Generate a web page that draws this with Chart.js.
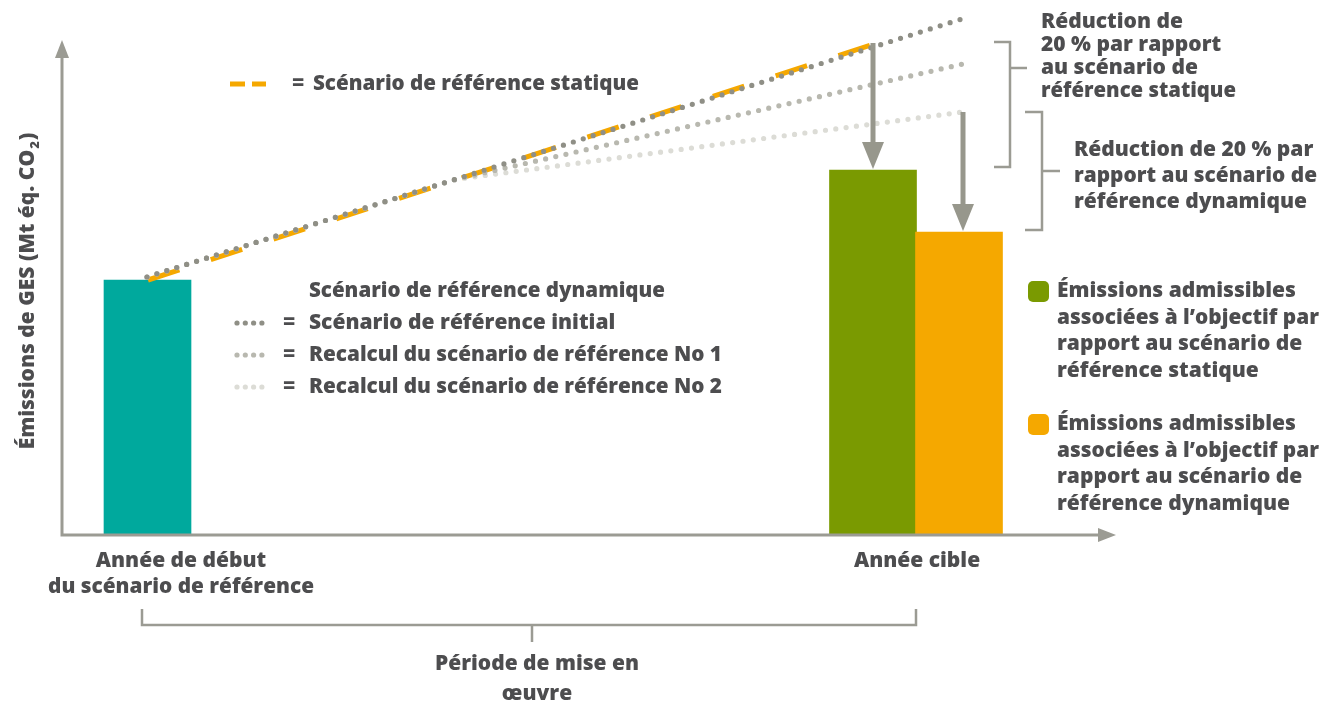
<!DOCTYPE html>
<html lang="fr">
<head>
<meta charset="utf-8">
<title>Émissions de GES – scénarios de référence</title>
<script src="https://cdn.jsdelivr.net/npm/chart.js@4.4.1/dist/chart.umd.min.js"></script>
<style>
  html, body { margin: 0; padding: 0; background: #fff; }
  #wrap { position: relative; width: 1322px; height: 704px; }
</style>
</head>
<body>
<div id="wrap"><canvas id="chart"></canvas></div>
<script>
// Schematic values (arbitrary units)
const barX = [8.55, 81.1, 89.7];
const barValues = [51, 73, 60.6];

const initialX = [8.5, 90.6];
const initialY = [51.6, 103.6];
const recalc1X = [8.5, 39.3, 90.1];
const recalc1Y = [51.6, 71.1, 94.2];
const recalc2X = [8.5, 39.3, 90.1];
const recalc2Y = [51.6, 71.1, 84.6];
const staticX = [8.6, 81.5];
const staticY = [51.0, 98.4];

// reduction arrows: where they start (baseline) and end (target bar)
const arrowX = [81.1, 90.1];
const arrowFrom = [98.4, 84.6];
const arrowTo = [73, 60.6];

const tickX = [11.9, 85.5];
const tickLabels = [['Année de début', 'du scénario de référence'], ['Année cible']];
const periodX = [8.0, 85.4];

const TEXT = '#4d4d4f';
const AXIS = '#9b9b93';
const TEAL = '#00a99d';
const GREEN = '#7a9a01';
const ORANGE = '#f5a800';
const DOT1 = '#8f8f86';
const DOT2 = '#b8b8af';
const DOT3 = '#dcdcd6';

function font(size) {
    return '800 ' + size + 'px "Open Sans", Lato, sans-serif';
}

function pts(xs, ys) {
    return xs.map((x, i) => ({ x: x, y: ys[i] }));
}

function textLines(ctx, arr, x, y, lh, align, maxW) {
    ctx.textAlign = align || 'left';
    arr.forEach((s, i) => {
        if (maxW) ctx.fillText(s, x, y + i * lh, maxW);
        else ctx.fillText(s, x, y + i * lh);
    });
}

function downArrow(ctx, x, y1, y2) {
    ctx.fillStyle = '#97978c';
    ctx.fillRect(x - 2.5, y1, 5, (y2 - 26) - y1);
    ctx.beginPath();
    ctx.moveTo(x - 11, y2 - 28);
    ctx.lineTo(x + 11, y2 - 28);
    ctx.lineTo(x, y2 - 1);
    ctx.closePath();
    ctx.fill();
}

const annotations = {
    id: 'annotations',
    afterDraw(chart) {
        const ctx = chart.ctx;
        const xs = chart.scales.x;
        const ys = chart.scales.y;
        const ca = chart.chartArea;
        ctx.save();

        // axes with arrow heads
        ctx.strokeStyle = AXIS;
        ctx.fillStyle = AXIS;
        ctx.lineWidth = 3;
        ctx.beginPath();
        ctx.moveTo(ca.left, ca.bottom + 1.5);
        ctx.lineTo(ca.left, 56);
        ctx.moveTo(ca.left - 1.5, ca.bottom);
        ctx.lineTo(1100, ca.bottom);
        ctx.stroke();
        ctx.beginPath();
        ctx.moveTo(ca.left, 40);
        ctx.lineTo(ca.left - 7, 58);
        ctx.lineTo(ca.left + 7, 58);
        ctx.closePath();
        ctx.fill();
        ctx.beginPath();
        ctx.moveTo(1116, ca.bottom);
        ctx.lineTo(1098, ca.bottom - 7);
        ctx.lineTo(1098, ca.bottom + 7);
        ctx.closePath();
        ctx.fill();

        // reduction arrows
        arrowX.forEach((x, i) => {
            downArrow(ctx, xs.getPixelForValue(x), ys.getPixelForValue(arrowFrom[i]), ys.getPixelForValue(arrowTo[i]));
        });

        // brackets on the right
        ctx.strokeStyle = AXIS;
        ctx.lineWidth = 2.5;
        const b1t = ys.getPixelForValue(arrowFrom[0]) - 1, b1b = ys.getPixelForValue(arrowTo[0]) - 3;
        ctx.beginPath();
        ctx.moveTo(994, b1t); ctx.lineTo(1010, b1t); ctx.lineTo(1010, b1b); ctx.lineTo(994, b1b);
        ctx.moveTo(1010, 68); ctx.lineTo(1027, 68);
        const b2t = ys.getPixelForValue(arrowFrom[1]), b2b = ys.getPixelForValue(arrowTo[1]) - 2;
        ctx.moveTo(1025, b2t); ctx.lineTo(1042, b2t); ctx.lineTo(1042, b2b); ctx.lineTo(1025, b2b);
        ctx.moveTo(1042, (b2t + b2b) / 2); ctx.lineTo(1060, (b2t + b2b) / 2);
        ctx.stroke();

        // period bracket under the axis
        const p0 = xs.getPixelForValue(periodX[0]), p1 = xs.getPixelForValue(periodX[1]);
        ctx.beginPath();
        ctx.moveTo(p0, 609); ctx.lineTo(p0, 625); ctx.lineTo(p1, 625); ctx.lineTo(p1, 609);
        ctx.moveTo((p0 + p1) / 2 + 3, 625); ctx.lineTo((p0 + p1) / 2 + 3, 642);
        ctx.stroke();

        // text
        ctx.fillStyle = TEXT;
        ctx.textBaseline = 'middle';
        ctx.font = font(21);

        // x tick labels
        tickX.forEach((v, i) => {
            textLines(ctx, tickLabels[i], xs.getPixelForValue(v), 561, 26, 'center', 266);
        });
        textLines(ctx, ['Période de mise en', 'œuvre'], 537, 664, 30, 'center', 204);

        // y axis title
        ctx.save();
        ctx.translate(28, 291);
        ctx.rotate(-Math.PI / 2);
        const main = 'Émissions de GES (Mt éq. CO';
        ctx.font = font(21);
        const wMain = ctx.measureText(main).width;
        ctx.font = font(13);
        const wSub = ctx.measureText('2').width;
        ctx.font = font(21);
        const wEnd = ctx.measureText(')').width;
        let sx = -(wMain + wSub + wEnd + 2) / 2;
        ctx.textAlign = 'left';
        ctx.fillText(main, sx, 0);
        ctx.font = font(13);
        ctx.fillText('2', sx + wMain + 1, 7);
        ctx.font = font(21);
        ctx.fillText(')', sx + wMain + wSub + 2, 0);
        ctx.restore();

        // static baseline legend
        ctx.strokeStyle = ORANGE;
        ctx.lineWidth = 5;
        ctx.beginPath();
        ctx.moveTo(230, 84); ctx.lineTo(245, 84);
        ctx.moveTo(252, 84); ctx.lineTo(266, 84);
        ctx.stroke();
        ctx.fillStyle = TEXT;
        ctx.font = font(21);
        ctx.textAlign = 'left';
        ctx.fillText('=', 292, 84);
        ctx.fillText('Scénario de référence statique', 313, 84, 326);

        // dynamic baseline legend
        ctx.fillText('Scénario de référence dynamique', 309, 291, 356);
        const rows = [
            [DOT1, 'Scénario de référence initial'],
            [DOT2, 'Recalcul du scénario de référence No 1'],
            [DOT3, 'Recalcul du scénario de référence No 2']
        ];
        rows.forEach((r, i) => {
            const y = 323 + i * 32;
            ctx.fillStyle = r[0];
            for (let k = 0; k < 4; k++) {
                ctx.beginPath();
                ctx.arc(237 + k * 8.3, y, 2.6, 0, Math.PI * 2);
                ctx.fill();
            }
            ctx.fillStyle = TEXT;
            ctx.fillText('=', 283, y);
            ctx.fillText(r[1], 309, y, 413);
        });

        // right-hand notes
        textLines(ctx, ['Réduction de', '20 % par rapport', 'au scénario de', 'référence statique'], 1041, 22, 23, 'left', 195);
        textLines(ctx, ['Réduction de 20 % par', 'rapport au scénario de', 'référence dynamique'], 1074, 150, 26, 'left', 243);

        // bar legend
        const items = [
            [GREEN, 291, ['Émissions admissibles', 'associées à l’objectif par', 'rapport au scénario de', 'référence statique']],
            [ORANGE, 424, ['Émissions admissibles', 'associées à l’objectif par', 'rapport au scénario de', 'référence dynamique']]
        ];
        items.forEach(it => {
            ctx.fillStyle = it[0];
            ctx.beginPath();
            ctx.roundRect(1028, it[1] - 10, 21, 21, 5);
            ctx.fill();
            ctx.fillStyle = TEXT;
            textLines(ctx, it[2], 1057, it[1], 26.7, 'left', 262);
        });

        ctx.restore();
    }
};

const dotLine = (label, xs, ys, color, order) => ({
    type: 'line',
    label: label,
    data: pts(xs, ys),
    borderColor: color,
    borderWidth: 5.2,
    borderDash: [0, 10.4],
    borderCapStyle: 'round',
    pointRadius: 0,
    tension: 0,
    order: order
});

new Chart(document.getElementById('chart'), {
    type: 'bar',
    data: {
        datasets: [
            {
                type: 'bar',
                label: 'Émissions',
                data: pts(barX, barValues),
                backgroundColor: [TEAL, GREEN, ORANGE],
                barThickness: 87,
                borderWidth: 0,
                order: 5
            },
            {
                type: 'line',
                label: 'Scénario de référence statique',
                data: pts(staticX, staticY),
                borderColor: ORANGE,
                borderWidth: 5,
                borderDash: [33, 33],
                pointRadius: 0,
                tension: 0,
                order: 4
            },
            dotLine('Recalcul du scénario de référence No 2', recalc2X, recalc2Y, DOT3, 3),
            dotLine('Recalcul du scénario de référence No 1', recalc1X, recalc1Y, DOT2, 2),
            dotLine('Scénario de référence initial', initialX, initialY, DOT1, 1)
        ]
    },
    options: {
        responsive: true,
        maintainAspectRatio: false,
        animation: false,
        layout: { padding: { left: 62, right: 210, top: 10, bottom: 169 } },
        scales: {
            x: { type: 'linear', min: 0, max: 105, offset: false, display: false },
            y: { type: 'linear', min: 0, max: 105, display: false }
        },
        plugins: {
            legend: { display: false },
            tooltip: { enabled: false }
        }
    },
    plugins: [annotations]
});
</script>
</body>
</html>
